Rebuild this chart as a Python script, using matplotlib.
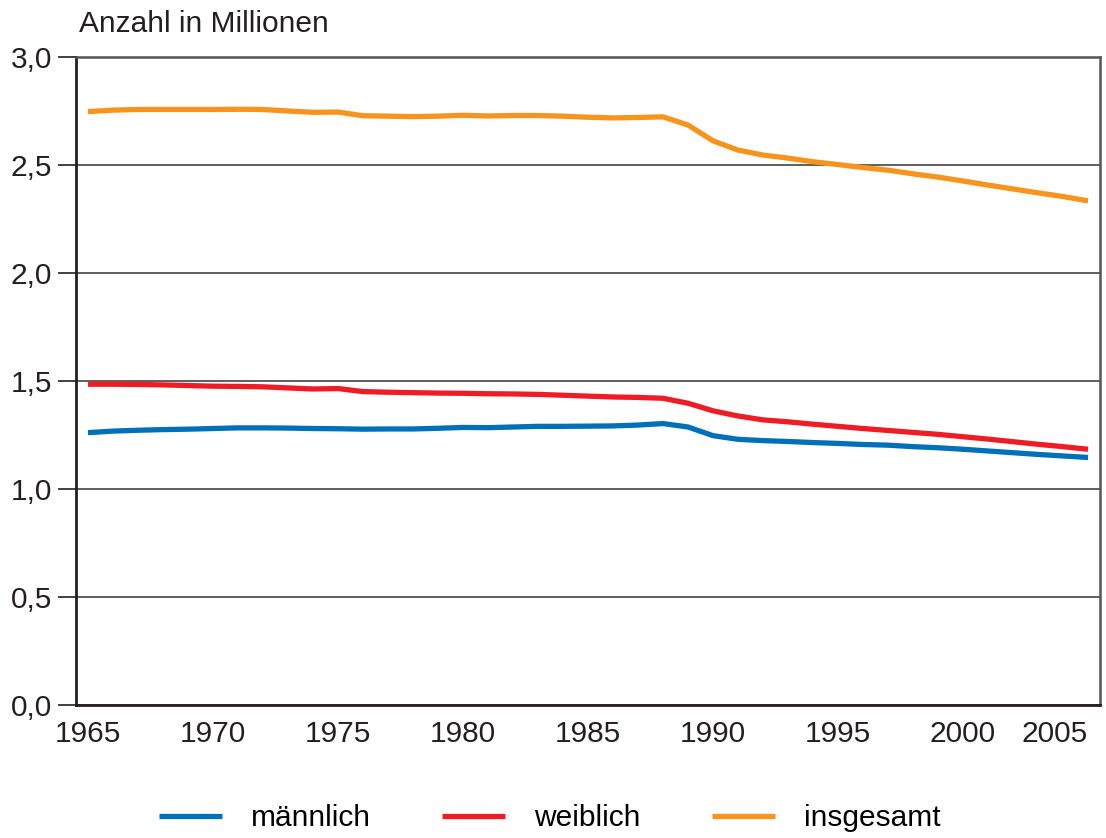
import matplotlib
matplotlib.use('Agg')
import matplotlib.pyplot as plt

plt.rcParams['font.family'] = ['Liberation Sans', 'DejaVu Sans']

# Jahre 1965 bis 2005
jahre = list(range(1965, 2006))

maennlich = [1.261, 1.268, 1.272, 1.275, 1.277, 1.280, 1.283, 1.283, 1.282, 1.280,
             1.279, 1.277, 1.278, 1.278, 1.281, 1.285, 1.284, 1.287, 1.290, 1.290,
             1.291, 1.292, 1.296, 1.303, 1.287, 1.247, 1.230, 1.224, 1.220, 1.215,
             1.211, 1.206, 1.203, 1.196, 1.191, 1.184, 1.176, 1.168, 1.160, 1.153,
             1.146]

weiblich = [1.485, 1.485, 1.484, 1.482, 1.479, 1.476, 1.475, 1.473, 1.468, 1.463,
            1.465, 1.451, 1.448, 1.446, 1.444, 1.443, 1.441, 1.440, 1.438, 1.434,
            1.430, 1.426, 1.424, 1.420, 1.397, 1.362, 1.338, 1.320, 1.311, 1.300,
            1.290, 1.280, 1.271, 1.262, 1.253, 1.242, 1.231, 1.219, 1.207, 1.196,
            1.184]

insgesamt = [2.747, 2.754, 2.757, 2.757, 2.757, 2.757, 2.758, 2.757, 2.750, 2.744,
             2.745, 2.728, 2.726, 2.724, 2.726, 2.730, 2.727, 2.729, 2.729, 2.726,
             2.721, 2.718, 2.720, 2.723, 2.685, 2.612, 2.569, 2.546, 2.532, 2.515,
             2.502, 2.488, 2.476, 2.459, 2.444, 2.426, 2.407, 2.389, 2.371, 2.354,
             2.334]

x_ticks = [1965, 1970, 1975, 1980, 1985, 1990, 1995, 2000, 2005]
y_ticks = [0.0, 0.5, 1.0, 1.5, 2.0, 2.5, 3.0]
y_labels = ['0,0', '0,5', '1,0', '1,5', '2,0', '2,5', '3,0']

fs = 21.5

fig = plt.figure(figsize=(11.06, 8.38), dpi=100)
ax = fig.add_axes([0.0687, 0.1587, 0.9259, 0.7733])

ax.plot(jahre, insgesamt, color='#F7941D', lw=3.8, solid_capstyle='butt', label='insgesamt')
ax.plot(jahre, weiblich, color='#EE1C25', lw=3.8, solid_capstyle='butt', label='weiblich')
ax.plot(jahre, maennlich, color='#0070B8', lw=3.8, solid_capstyle='butt', label='männlich')

ax.set_xlim(1964.52, 2005.48)
ax.set_ylim(0, 3.0)

ax.set_yticks(y_ticks)
ax.set_yticklabels(y_labels, fontsize=fs, color='#231f20')
ax.tick_params(axis='y', length=13, width=1.2, pad=4, color='#231f20')

ax.set_xticks(x_ticks)
ax.set_xticklabels([str(j) for j in x_ticks], fontsize=fs, color='#231f20')
ax.tick_params(axis='x', length=0, pad=11)
ax.get_xticklabels()[-1].set_horizontalalignment('right')

ax.grid(axis='y', color='#333333', lw=1.1)
ax.set_axisbelow(True)

for side in ['left', 'bottom']:
    ax.spines[side].set_linewidth(2)
    ax.spines[side].set_color('#231f20')
for side in ['top', 'right']:
    ax.spines[side].set_linewidth(1.8)
    ax.spines[side].set_color('#555555')

fig.text(79 / 1106, 1 - 32 / 838, 'Anzahl in Millionen', fontsize=fs,
         color='#231f20', va='baseline', ha='left')

handles, labels = ax.get_legend_handles_labels()
order = [2, 1, 0]
fig.legend([handles[i] for i in order], [labels[i] for i in order],
           loc='center', bbox_to_anchor=(0.497, 1 - 818 / 838), ncol=3,
           frameon=False, fontsize=fs, handlelength=2.1, handletextpad=0.97,
           columnspacing=2.4)

plt.savefig('out.png', dpi=100)
